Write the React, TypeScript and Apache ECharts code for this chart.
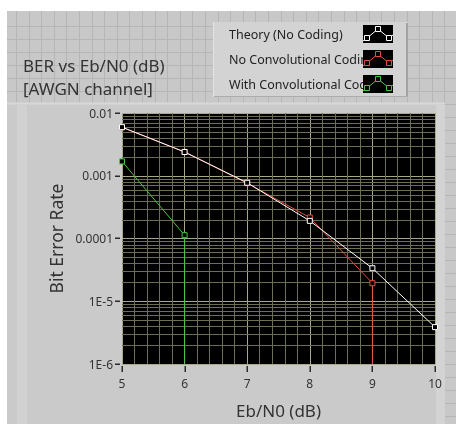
import React, { useEffect, useRef } from "react";
import * as echarts from "echarts";

// Eb/N0 in dB
const ebn0 = [5, 6, 7, 8, 9, 10];
// BER values (0 = no errors counted)
const theory = [5.95e-3, 2.39e-3, 7.73e-4, 1.91e-4, 3.36e-5, 3.87e-6];
const noCoding = [5.9e-3, 2.4e-3, 7.6e-4, 2.16e-4, 1.94e-5, 0];
const withCoding = [1.69e-3, 1.13e-4, 0, 0, 0, 0];

// tick values
const xTicks = [5, 6, 7, 8, 9, 10];
const yTicks = [1e-2, 1e-3, 1e-4, 1e-5, 1e-6];

const seriesNames = ["Theory (No Coding)", "No Convolutional Coding", "With Convolutional Coding"];
const seriesColors = ["#ffffff", "#e0503f", "#45c445"];

const Y_MIN = 1e-6;
const Y_MAX = 1e-2;
const X_MIN = 5;
const X_MAX = 10;

function buildData(vals: number[]) {
  const out: any[] = [];
  for (let i = 0; i < vals.length; i++) {
    if (vals[i] > 0) {
      out.push([ebn0[i], vals[i]]);
    } else {
      if (i > 0 && vals[i - 1] > 0) {
        out.push({ value: [ebn0[i - 1], Y_MIN], symbol: "none" });
      }
      break;
    }
  }
  return out;
}

function minorLogValues() {
  const res: number[] = [];
  for (let e = -6; e < -2; e++) {
    for (let m = 2; m <= 9; m++) res.push(m * Math.pow(10, e));
  }
  return res;
}

function fmtY(v: number) {
  const e = Math.round(Math.log10(v));
  if (e >= -4) return v.toFixed(-e);
  return "1E" + e;
}

const FONT = "'Noto Sans', 'Open Sans', sans-serif";
const TICK_COLOR = "#2a2a2a";

export default function App() {
  const ref = useRef<HTMLDivElement>(null);
  useEffect(() => {
    if (!ref.current) return;
    const chart = echarts.init(ref.current, undefined, { renderer: "svg" });

    const bg: any[] = [];
    bg.push({ type: "rect", z: -20, shape: { x: 0, y: 0, width: 456, height: 424 }, style: { fill: "#ffffff" } });
    bg.push({ type: "rect", z: -19, shape: { x: 7, y: 11, width: 449, height: 413 }, style: { fill: "#c8c8c8" } });
    for (let x = 16; x < 456; x += 12.6) {
      bg.push({ type: "line", z: -18, shape: { x1: Math.round(x) + 0.5, y1: 11, x2: Math.round(x) + 0.5, y2: 424 }, style: { stroke: "#b6b6b6", lineWidth: 1 } });
    }
    for (let y = 25.5; y < 424; y += 13) {
      bg.push({ type: "line", z: -18, shape: { x1: 7, y1: Math.round(y) + 0.5, x2: 456, y2: Math.round(y) + 0.5 }, style: { stroke: "#b6b6b6", lineWidth: 1 } });
    }
    // graph panel
    bg.push({ type: "rect", z: -17, shape: { x: 7, y: 103, width: 438, height: 321 }, style: { fill: "#cacaca" } });
    bg.push({ type: "rect", z: -16, shape: { x: 17, y: 105, width: 10, height: 319 }, style: { fill: "#d1d1d1" } });
    bg.push({ type: "line", z: -16, shape: { x1: 7, y1: 103.5, x2: 445, y2: 103.5 }, style: { stroke: "#d8d8d8", lineWidth: 2 } });
    bg.push({ type: "rect", z: -16, shape: { x: 436, y: 105, width: 9, height: 319 }, style: { fill: "#d3d3d3" } });

    // title
    bg.push({ type: "text", z: 5, x: 23, y: 65, style: { text: "BER vs Eb/N0 (dB)", fill: "#333", font: `17px ${FONT}`, verticalAlign: "middle" } });
    bg.push({ type: "text", z: 5, x: 23, y: 88, style: { text: "[AWGN channel]", fill: "#333", font: `17px ${FONT}`, verticalAlign: "middle" } });

    // legend
    bg.push({ type: "rect", z: 5, shape: { x: 213, y: 22, width: 195, height: 75 }, style: { fill: "#d3d3d3" } });
    bg.push({ type: "line", z: 6, shape: { x1: 407, y1: 23, x2: 407, y2: 97 }, style: { stroke: "#a3a3a3", lineWidth: 2 } });
    bg.push({ type: "line", z: 6, shape: { x1: 213, y1: 96.5, x2: 408, y2: 96.5 }, style: { stroke: "#ababab", lineWidth: 1 } });
    bg.push({ type: "line", z: 6, shape: { x1: 213.5, y1: 22, x2: 213.5, y2: 97 }, style: { stroke: "#e2e2e2", lineWidth: 1 } });
    const rows = [34, 59, 84];
    seriesNames.forEach((name, i) => {
      const cy = rows[i];
      bg.push({ type: "text", z: 7, x: 229, y: cy, style: { text: name, fill: "#222", font: `12.5px ${FONT}`, verticalAlign: "middle" } });
      bg.push({ type: "rect", z: 8, shape: { x: 363, y: cy - 9, width: 30, height: 18 }, style: { fill: "#000" } });
      const pts = [[363, cy + 7], [367, cy + 4], [378, cy - 5], [389, cy + 4], [393, cy + 1]];
      bg.push({ type: "polyline", z: 9, shape: { points: pts }, style: { stroke: seriesColors[i], lineWidth: 1, fill: null } });
      [[367, cy + 4], [378, cy - 5], [389, cy + 4]].forEach((p) => {
        bg.push({ type: "rect", z: 10, shape: { x: p[0] - 2.5, y: p[1] - 2.5, width: 5, height: 5 }, style: { fill: "#000", stroke: seriesColors[i], lineWidth: 1 } });
      });
    });

    const majorColor = "#a9a98a";
    const minorColor = "#6e6e56";

    const mkSeries = (name: string, vals: number[], color: string, z: number) => ({
      name,
      type: "line",
      data: buildData(vals),
      z,
      clip: true,
      symbol: "rect",
      symbolSize: 5,
      showSymbol: true,
      lineStyle: { color, width: 1 },
      itemStyle: { color: "#000", borderColor: color, borderWidth: 1 },
      emphasis: { disabled: true },
    });

    chart.setOption({
      animation: false,
      graphic: { elements: bg },
      grid: {
        left: 122,
        top: 113,
        width: 313,
        height: 261,
        show: true,
        backgroundColor: "#000",
        borderWidth: 0,
        containLabel: false,
      },
      xAxis: {
        type: "value",
        min: X_MIN,
        max: X_MAX,
        interval: 1,
        name: "Eb/N0 (dB)",
        nameLocation: "middle",
        nameGap: 38,
        nameTextStyle: { fontSize: 17, color: "#333", fontFamily: FONT },
        axisLine: { show: false },
        axisTick: { show: false },
        axisLabel: { fontSize: 12, color: "#333", margin: 13, fontFamily: FONT },
        splitLine: { show: true, lineStyle: { color: majorColor, width: 1 } },
        minorTick: { show: false, splitNumber: 5 },
        minorSplitLine: { show: true, lineStyle: { color: minorColor, width: 1 } },
      },
      yAxis: {
        type: "log",
        logBase: 10,
        min: Y_MIN,
        max: Y_MAX,
        name: "Bit Error Rate",
        nameLocation: "middle",
        nameGap: 40,
        nameTextStyle: { fontSize: 17.5, color: "#333", fontFamily: FONT },
        axisLine: { show: false },
        axisTick: { show: false },
        axisLabel: { fontSize: 12, color: "#333", margin: 9, formatter: fmtY, fontFamily: FONT },
        splitLine: { show: true, lineStyle: { color: majorColor, width: 1 } },
      },
      series: [
        {
          type: "custom",
          z: 1,
          silent: true,
          data: minorLogValues().map((v) => [X_MIN, v]),
          renderItem: (params: any, api: any) => {
            const cs = params.coordSys;
            const p = api.coord([api.value(0), api.value(1)]);
            const y = Math.round(p[1]) + 0.5;
            return {
              type: "line",
              shape: { x1: cs.x, y1: y, x2: cs.x + cs.width, y2: y },
              style: { stroke: minorColor, lineWidth: 1 },
            };
          },
        },
        {
          type: "custom",
          z: 6,
          silent: true,
          clip: false,
          data: xTicks.map((v) => [v, Y_MIN]),
          renderItem: (_params: any, api: any) => {
            const p = api.coord([api.value(0), api.value(1)]);
            const x = Math.round(p[0]);
            return {
              type: "rect",
              shape: { x: x - 0.5, y: p[1] + 2, width: 1.5, height: 6 },
              style: { fill: TICK_COLOR },
            };
          },
        },
        {
          type: "custom",
          z: 6,
          silent: true,
          clip: false,
          data: yTicks.map((v) => [X_MIN, v]),
          renderItem: (_params: any, api: any) => {
            const p = api.coord([api.value(0), api.value(1)]);
            const y = Math.round(p[1]);
            return {
              type: "rect",
              shape: { x: p[0] - 7, y: y - 0.5, width: 5, height: 1.5 },
              style: { fill: TICK_COLOR },
            };
          },
        },
        mkSeries(seriesNames[2], withCoding, seriesColors[2], 3),
        mkSeries(seriesNames[1], noCoding, seriesColors[1], 4),
        mkSeries(seriesNames[0], theory, seriesColors[0], 5),
      ],
    });
    return () => chart.dispose();
  }, []);
  return (
    <div
      ref={ref}
      style={{ position: "fixed", left: 0, top: 0, width: 456, height: 424 }}
    />
  );
}
